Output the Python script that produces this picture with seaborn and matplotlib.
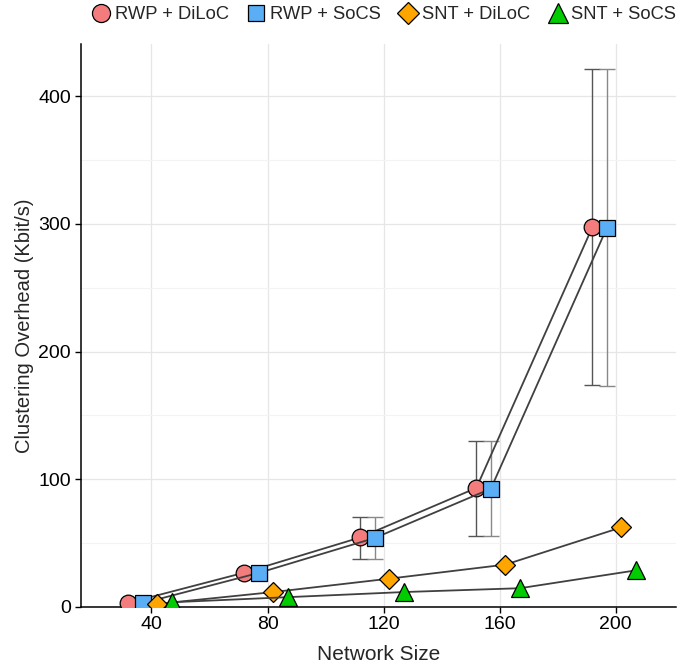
import pandas as pd
import seaborn as sns
import matplotlib.pyplot as plt
from matplotlib.lines import Line2D
from matplotlib.ticker import MultipleLocator

network_size = [40, 80, 120, 160, 200]
series_names = ["RWP + DiLoC", "RWP + SoCS", "SNT + DiLoC", "SNT + SoCS"]

rwp_diloc = [3.0, 26.7, 54.3, 93.1, 297.5]
rwp_socs = [2.8, 26.5, 53.9, 92.5, 297.0]
snt_diloc = [2.2, 11.5, 22.0, 33.0, 62.2]
snt_socs = [3.5, 7.5, 11.5, 14.5, 28.5]

rwp_diloc_lo = [2.0, 24.5, 37.4, 55.7, 173.6]
rwp_diloc_hi = [4.0, 29.0, 70.0, 130.0, 421.0]
rwp_socs_lo = [1.8, 24.3, 37.2, 55.5, 173.0]
rwp_socs_hi = [3.8, 28.7, 70.0, 130.0, 421.0]


def main():
    sns.set_style("white")
    plt.rcParams['font.family'] = ['Liberation Sans', 'DejaVu Sans']

    values = [rwp_diloc, rwp_socs, snt_diloc, snt_socs]
    offsets = [-8, -3, 2, 7]
    fills = ["#f47c7c", "#5aaef5", "#ffa500", "#00cc00"]
    marks = ["o", "s", "D", "^"]
    sizes = [12, 11, 10.5, 13.5]
    rows = []
    for name, vals, off in zip(series_names, values, offsets):
        for n, v in zip(network_size, vals):
            rows.append({"series": name, "size": n, "x": n + off, "overhead": v})
    df = pd.DataFrame(rows)

    fig = plt.figure(figsize=(6.78, 6.66), dpi=100)
    ax = fig.add_axes([0.119, 0.089, 0.878, 0.845])

    ax.grid(True, which="major", color="#e6e6e6", linewidth=0.9)
    ax.yaxis.set_minor_locator(MultipleLocator(50))
    ax.grid(True, which="minor", axis="y", color="#f3f3f3", linewidth=0.8)
    ax.set_axisbelow(True)

    # error bars for the RWP runs
    err_sets = [(rwp_diloc, rwp_diloc_lo, rwp_diloc_hi, -8, "#555555"),
                (rwp_socs, rwp_socs_lo, rwp_socs_hi, -3, "#888888")]
    for vals, lo, hi, off, col in err_sets:
        xs = [n + off for n in network_size]
        yerr = [[v - l for v, l in zip(vals, lo)], [h - v for v, h in zip(vals, hi)]]
        ax.errorbar(xs, vals, yerr=yerr, fmt="none", ecolor=col,
                    elinewidth=1.0, capsize=6, capthick=1.0, zorder=2)

    for name, fc, mk, ms in zip(series_names, fills, marks, sizes):
        sub = df[df["series"] == name]
        sns.lineplot(data=sub, x="x", y="overhead", ax=ax, color="#404040",
                     linewidth=1.3, marker=mk, markersize=ms,
                     markerfacecolor=fc, markeredgecolor="black",
                     markeredgewidth=0.9, zorder=3)

    ax.set_xlim(15.6, 220.8)
    ax.set_ylim(0, 441)
    ax.set_xticks(network_size)
    ax.set_yticks([0, 100, 200, 300, 400])
    ax.tick_params(axis="both", which="major", direction="out", length=4,
                   width=1, color="black", labelsize=14, labelcolor="black",
                   left=True, bottom=True, pad=3)
    ax.tick_params(which="minor", left=False)
    for s in ["top", "right"]:
        ax.spines[s].set_visible(False)
    for s in ["left", "bottom"]:
        ax.spines[s].set_color("black")
        ax.spines[s].set_linewidth(1.1)

    ax.set_xlabel("Network Size", fontsize=15, labelpad=8)
    ax.set_ylabel("Clustering Overhead (Kbit/s)", fontsize=14.5, labelpad=3)

    handles = [Line2D([], [], linestyle="none", marker=mk, markersize=ms + 1,
                      markerfacecolor=fc, markeredgecolor="black", markeredgewidth=0.9)
               for fc, mk, ms in zip(fills, marks, sizes)]
    fig.legend(handles, series_names, loc="center", bbox_to_anchor=(0.565, 0.978),
               ncol=4, frameon=False, fontsize=13.2, handletextpad=0.15,
               columnspacing=0.9, handlelength=1.2)

    fig.savefig("out.png", dpi=100)
    plt.close(fig)


if __name__ == '__main__':
    main()
